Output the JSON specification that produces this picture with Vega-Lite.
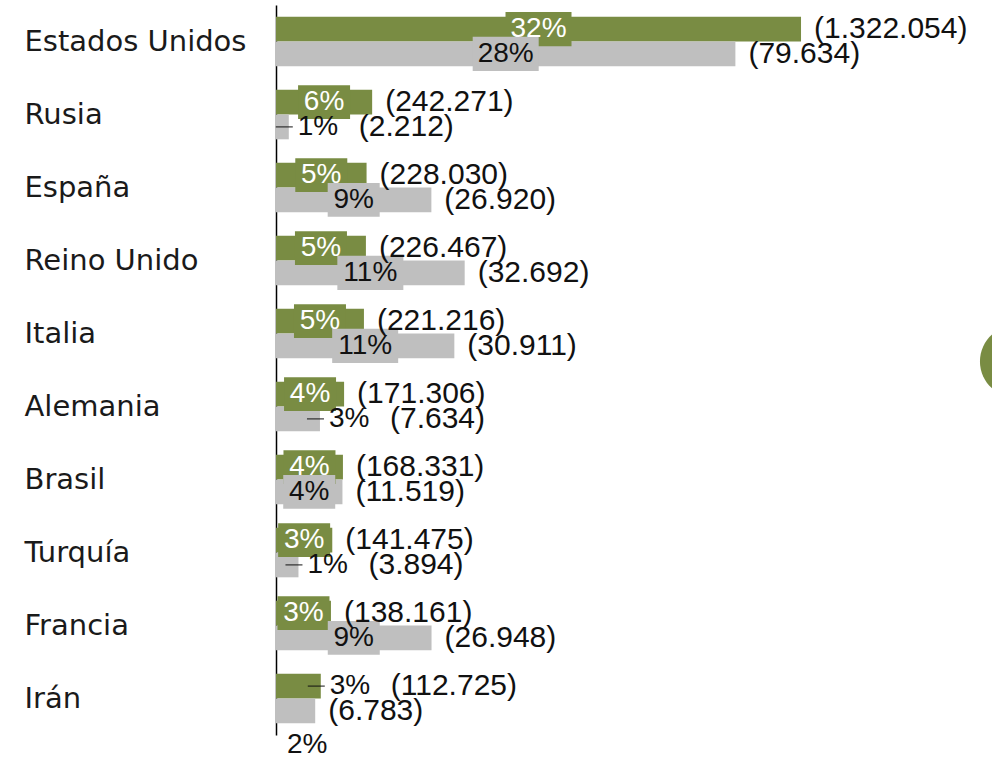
{
  "$schema": "https://vega.github.io/schema/vega-lite/v6.json",
  "width": 716,
  "height": 730,
  "autosize": "none",
  "padding": {"left": 276, "top": 5, "right": 0, "bottom": 22},
  "background": "white",
  "config": {
    "view": {"stroke": null},
    "axis": {
      "domainColor": "#000000",
      "domainWidth": 1.5,
      "ticks": false,
      "grid": false,
      "labelAlign": "left",
      "labelPadding": 252,
      "labelFont": "DejaVu Sans",
      "labelFontSize": 29,
      "labelColor": "#1a1a1a",
      "labelLimit": 400
    },
    "text": {"font": "Liberation Sans", "fontSize": 30, "color": "#111111", "baseline": "middle"}
  },
  "data": {
    "values": [
      {"country": "Estados Unidos", "series": "Casos", "count": 1322054, "pct": 32.0, "pctLabel": "32%", "countLabel": "(1.322.054)"},
      {"country": "Estados Unidos", "series": "Fallecidos", "count": 79634, "pct": 28.0, "pctLabel": "28%", "countLabel": "(79.634)"},
      {"country": "Rusia", "series": "Casos", "count": 242271, "pct": 5.86, "pctLabel": "6%", "countLabel": "(242.271)"},
      {"country": "Rusia", "series": "Fallecidos", "count": 2212, "pct": 0.78, "pctLabel": "1%", "countLabel": "(2.212)"},
      {"country": "España", "series": "Casos", "count": 228030, "pct": 5.52, "pctLabel": "5%", "countLabel": "(228.030)"},
      {"country": "España", "series": "Fallecidos", "count": 26920, "pct": 9.47, "pctLabel": "9%", "countLabel": "(26.920)"},
      {"country": "Reino Unido", "series": "Casos", "count": 226467, "pct": 5.48, "pctLabel": "5%", "countLabel": "(226.467)"},
      {"country": "Reino Unido", "series": "Fallecidos", "count": 32692, "pct": 11.5, "pctLabel": "11%", "countLabel": "(32.692)"},
      {"country": "Italia", "series": "Casos", "count": 221216, "pct": 5.36, "pctLabel": "5%", "countLabel": "(221.216)"},
      {"country": "Italia", "series": "Fallecidos", "count": 30911, "pct": 10.87, "pctLabel": "11%", "countLabel": "(30.911)"},
      {"country": "Alemania", "series": "Casos", "count": 171306, "pct": 4.15, "pctLabel": "4%", "countLabel": "(171.306)"},
      {"country": "Alemania", "series": "Fallecidos", "count": 7634, "pct": 2.68, "pctLabel": "3%", "countLabel": "(7.634)"},
      {"country": "Brasil", "series": "Casos", "count": 168331, "pct": 4.08, "pctLabel": "4%", "countLabel": "(168.331)"},
      {"country": "Brasil", "series": "Fallecidos", "count": 11519, "pct": 4.05, "pctLabel": "4%", "countLabel": "(11.519)"},
      {"country": "Turquía", "series": "Casos", "count": 141475, "pct": 3.43, "pctLabel": "3%", "countLabel": "(141.475)"},
      {"country": "Turquía", "series": "Fallecidos", "count": 3894, "pct": 1.37, "pctLabel": "1%", "countLabel": "(3.894)"},
      {"country": "Francia", "series": "Casos", "count": 138161, "pct": 3.35, "pctLabel": "3%", "countLabel": "(138.161)"},
      {"country": "Francia", "series": "Fallecidos", "count": 26948, "pct": 9.48, "pctLabel": "9%", "countLabel": "(26.948)"},
      {"country": "Irán", "series": "Casos", "count": 112725, "pct": 2.73, "pctLabel": "3%", "countLabel": "(112.725)"},
      {"country": "Irán", "series": "Fallecidos", "count": 6783, "pct": 2.39, "pctLabel": "2%", "countLabel": "(6.783)"}
    ]
  },
  "encoding": {
    "y": {
      "field": "country",
      "type": "nominal",
      "title": null,
      "scale": {
        "domain": ["Estados Unidos", "Rusia", "España", "Reino Unido", "Italia", "Alemania", "Brasil", "Turquía", "Francia", "Irán"],
        "paddingInner": 0.32,
        "paddingOuter": 0.16
      }
    },
    "yOffset": {
      "field": "series",
      "type": "nominal",
      "scale": {"domain": ["Casos", "Fallecidos"], "paddingInner": 0, "paddingOuter": 0}
    }
  },
  "layer": [
    {
      "mark": {"type": "bar"},
      "encoding": {
        "x": {"field": "pct", "type": "quantitative", "stack": null, "scale": {"domain": [0, 43.64]}, "axis": null},
        "color": {"field": "series", "type": "nominal", "scale": {"domain": ["Casos", "Fallecidos"], "range": ["#798C43", "#BFBFBF"]}, "legend": null}
      }
    },
    {
      "transform": [{"filter": "datum.pct >= 3 && datum.pct < 9.5"}],
      "mark": {"type": "point", "shape": "M-1,-0.65H1V0.65H-1Z", "size": 2704, "filled": true, "opacity": 1, "strokeWidth": 0},
      "encoding": {
        "x": {"field": "pct", "type": "quantitative", "scale": {"domain": [0, 87.28]}, "axis": null},
        "color": {"field": "series", "type": "nominal", "legend": null}
      }
    },
    {
      "transform": [{"filter": "datum.pct >= 9.5"}],
      "mark": {"type": "point", "shape": "M-1,-0.52H1V0.52H-1Z", "size": 4356, "filled": true, "opacity": 1, "strokeWidth": 0},
      "encoding": {
        "x": {"field": "pct", "type": "quantitative", "scale": {"domain": [0, 87.28]}, "axis": null},
        "color": {"field": "series", "type": "nominal", "legend": null}
      }
    },
    {
      "transform": [{"filter": "datum.pct >= 3"}],
      "mark": {"type": "text", "align": "center", "fontSize": 28},
      "encoding": {
        "x": {"field": "pct", "type": "quantitative", "scale": {"domain": [0, 87.28]}, "axis": null},
        "text": {"field": "pctLabel"},
        "color": {"condition": {"test": "datum.series === 'Casos'", "value": "#ffffff"}, "value": "#111111"}
      }
    },
    {
      "transform": [{"filter": "datum.pct < 3 && !(datum.country === 'Irán' && datum.series === 'Fallecidos')"}],
      "mark": {"type": "rule", "color": "#111111", "strokeWidth": 1, "xOffset": -13, "x2Offset": 4},
      "encoding": {
        "x": {"field": "pct", "type": "quantitative", "scale": {"domain": [0, 43.64]}, "axis": null},
        "x2": {"field": "pct"}
      }
    },
    {
      "transform": [{"filter": "datum.pct < 3 && !(datum.country === 'Irán' && datum.series === 'Fallecidos')"}],
      "mark": {"type": "text", "align": "left", "dx": 9, "fontSize": 28},
      "encoding": {
        "x": {"field": "pct", "type": "quantitative", "scale": {"domain": [0, 43.64]}, "axis": null},
        "text": {"field": "pctLabel"}
      }
    },
    {
      "transform": [{"filter": "datum.pct >= 3 || (datum.country === 'Irán' && datum.series === 'Fallecidos')"}],
      "mark": {"type": "text", "align": "left", "dx": 13},
      "encoding": {
        "x": {"field": "pct", "type": "quantitative", "scale": {"domain": [0, 43.64]}, "axis": null},
        "text": {"field": "countLabel"}
      }
    },
    {
      "transform": [{"filter": "datum.pct < 3 && !(datum.country === 'Irán' && datum.series === 'Fallecidos')"}],
      "mark": {"type": "text", "align": "left", "dx": 70},
      "encoding": {
        "x": {"field": "pct", "type": "quantitative", "scale": {"domain": [0, 43.64]}, "axis": null},
        "text": {"field": "countLabel"}
      }
    },
    {
      "transform": [{"filter": "datum.country === 'Irán' && datum.series === 'Fallecidos'"}],
      "mark": {"type": "text", "align": "center", "dx": -8, "dy": 34, "fontSize": 28},
      "encoding": {
        "x": {"field": "pct", "type": "quantitative", "scale": {"domain": [0, 43.64]}, "axis": null},
        "text": {"field": "pctLabel"}
      }
    },
    {
      "data": {"values": [{"country": "Italia", "series": "Fallecidos", "pos": 45.1}]},
      "mark": {"type": "point", "shape": "M-1,0.43A1,1 0 1,1 1,0.43A1,1 0 1,1 -1,0.43Z", "size": 5184, "filled": true, "opacity": 1, "color": "#798C43", "strokeWidth": 0},
      "encoding": {
        "x": {"field": "pos", "type": "quantitative", "scale": {"domain": [0, 43.64]}, "axis": null}
      }
    }
  ],
  "resolve": {"scale": {"x": "independent"}}
}
